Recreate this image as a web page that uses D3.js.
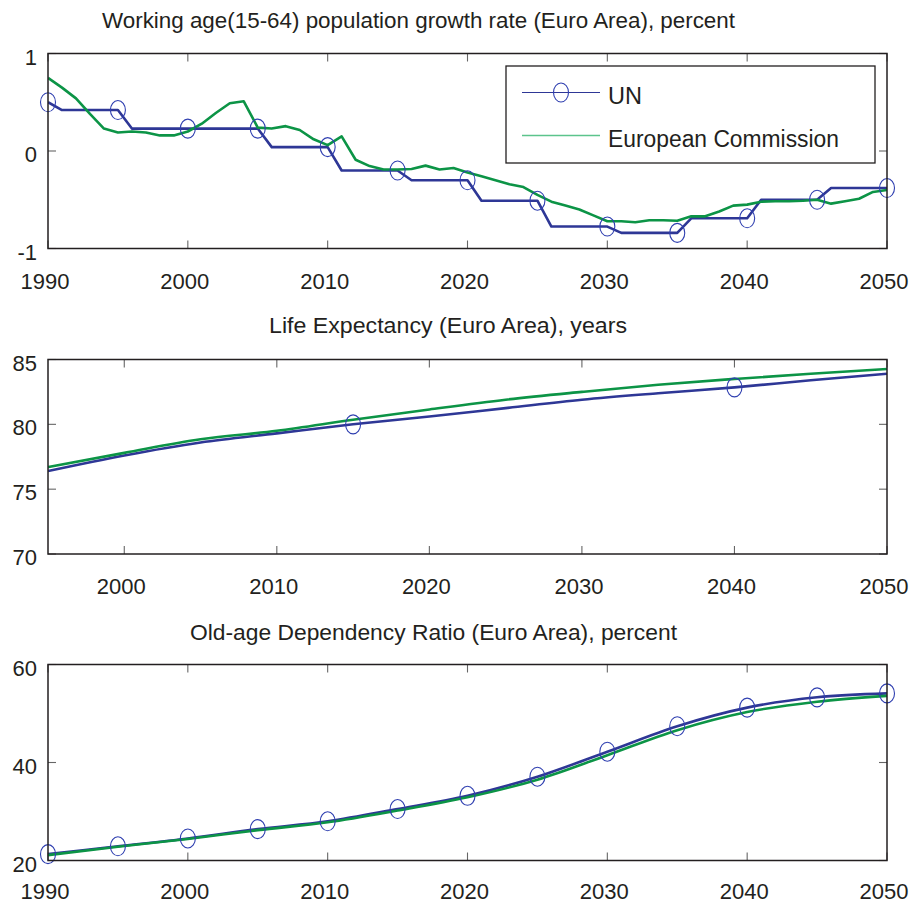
<!DOCTYPE html>
<html>
<head>
<meta charset="utf-8">
<script src="https://cdn.jsdelivr.net/npm/d3@7"></script>
<style>
  html, body { margin: 0; padding: 0; background: #ffffff; }
  svg { display: block; }
  text { font-family: "Liberation Sans", Arial, Helvetica, sans-serif; fill: #231f20; }
</style>
</head>
<body>
<svg id="chart" width="912" height="911"></svg>
<script>
// ---- Working-age (15-64) population growth rate, annual, percent ----
const growthYears = [
  1990,1991,1992,1993,1994,1995,1996,1997,1998,1999,
  2000,2001,2002,2003,2004,2005,2006,2007,2008,2009,
  2010,2011,2012,2013,2014,2015,2016,2017,2018,2019,
  2020,2021,2022,2023,2024,2025,2026,2027,2028,2029,
  2030,2031,2032,2033,2034,2035,2036,2037,2038,2039,
  2040,2041,2042,2043,2044,2045,2046,2047,2048,2049,2050
];
const growthUN = [
  0.50,0.42,0.42,0.42,0.42,0.42,0.23,0.23,0.23,0.23,
  0.23,0.23,0.23,0.23,0.23,0.23,0.04,0.04,0.04,0.04,
  0.04,-0.20,-0.20,-0.20,-0.20,-0.20,-0.30,-0.30,-0.30,-0.30,
  -0.30,-0.51,-0.51,-0.51,-0.51,-0.51,-0.775,-0.775,-0.775,-0.775,
  -0.775,-0.84,-0.84,-0.84,-0.84,-0.84,-0.69,-0.69,-0.69,-0.69,
  -0.69,-0.50,-0.50,-0.50,-0.50,-0.50,-0.38,-0.38,-0.38,-0.38,-0.38
];
const growthEC = [
  0.75,0.65,0.54,0.38,0.23,0.19,0.20,0.19,0.16,0.16,
  0.20,0.28,0.39,0.49,0.51,0.24,0.23,0.255,0.215,0.12,
  0.06,0.15,-0.09,-0.155,-0.19,-0.19,-0.185,-0.15,-0.19,-0.175,
  -0.22,-0.26,-0.30,-0.34,-0.37,-0.45,-0.52,-0.56,-0.60,-0.66,
  -0.72,-0.72,-0.73,-0.71,-0.71,-0.715,-0.67,-0.67,-0.62,-0.56,
  -0.55,-0.52,-0.515,-0.515,-0.51,-0.50,-0.54,-0.515,-0.49,-0.42,-0.40
];
const growthMarkerYears = [1990,1995,2000,2005,2010,2015,2020,2025,2030,2035,2040,2045,2050];
const growthXTicks = [1990,2000,2010,2020,2030,2040,2050];
const growthYTicks = [-1,0,1];

// ---- Life expectancy, years ----
const lifeYears = [1995,2000,2005,2010,2015,2020,2025,2030,2035,2040,2045,2050];
const lifeUN = [76.4,77.6,78.6,79.3,80.0,80.6,81.25,81.9,82.4,82.85,83.4,83.9];
const lifeEC = [76.7,77.8,78.85,79.5,80.35,81.15,81.9,82.5,83.05,83.5,83.9,84.27];
const lifeMarkerYears = [2015,2040];
const lifeXTicks = [2000,2010,2020,2030,2040,2050];
const lifeYTicks = [70,75,80,85];

// ---- Old-age dependency ratio, percent ----
const oldAgeYears = [1990,1995,2000,2005,2010,2015,2020,2025,2030,2035,2040,2045,2050];
const oldAgeUN = [21.3,22.9,24.5,26.4,28.0,30.5,33.2,37.1,42.2,47.4,51.2,53.3,54.1];
const oldAgeEC = [21.1,22.8,24.4,26.2,27.8,30.2,32.9,36.5,41.5,46.6,50.3,52.4,53.6];
const oldAgeMarkerYears = [1990,1995,2000,2005,2010,2015,2020,2025,2030,2035,2040,2045,2050];
const oldAgeXTicks = [1990,2000,2010,2020,2030,2040,2050];
const oldAgeYTicks = [20,40,60];

const seriesNames = ["UN", "European Commission"];

// ---- styling ----
const COLOR_UN = "#2e3796";
const COLOR_UN_MARKER = "#2f3fb0";
const COLOR_EC = "#0c9446";
const COLOR_EC_LEGEND = "#5cc48c";
const FRAME = "#231f20";

const svg = d3.select("#chart");
const plotLeft = 48, plotRight = 887;

const panels = [
  {
    title: "Working age(15-64) population growth rate (Euro Area), percent",
    titleX: 102, titleY: 28, titleLen: 633,
    top: 53.5, bottom: 248.5,
    xDomain: [1990, 2050], yDomain: [-1, 1],
    xTicks: growthXTicks, yTicks: growthYTicks,
    years: growthYears, un: growthUN, ec: growthEC,
    markers: growthMarkerYears, curve: d3.curveLinear,
    xLabelDy: 40, legend: true
  },
  {
    title: "Life Expectancy (Euro Area), years",
    titleX: 269, titleY: 333, titleLen: 358,
    top: 359.5, bottom: 554,
    xDomain: [1995, 2050], yDomain: [70, 85],
    xTicks: lifeXTicks, yTicks: lifeYTicks,
    years: lifeYears, un: lifeUN, ec: lifeEC,
    markers: lifeMarkerYears, curve: d3.curveMonotoneX,
    xLabelDy: 40, legend: false
  },
  {
    title: "Old-age Dependency Ratio (Euro Area), percent",
    titleX: 190, titleY: 640, titleLen: 487,
    top: 664.5, bottom: 860.5,
    xDomain: [1990, 2050], yDomain: [20, 60],
    xTicks: oldAgeXTicks, yTicks: oldAgeYTicks,
    years: oldAgeYears, un: oldAgeUN, ec: oldAgeEC,
    markers: oldAgeMarkerYears, curve: d3.curveMonotoneX,
    xLabelDy: 38, legend: false
  }
];

panels.forEach((p, i) => {
  const x = d3.scaleLinear().domain(p.xDomain).range([plotLeft, plotRight]);
  const y = d3.scaleLinear().domain(p.yDomain).range([p.bottom, p.top]);
  const g = svg.append("g");

  // title
  g.append("text")
    .attr("x", p.titleX).attr("y", p.titleY)
    .attr("font-size", 22)
    .attr("textLength", p.titleLen).attr("lengthAdjust", "spacingAndGlyphs")
    .text(p.title);

  // inward ticks on all four sides
  const tickLen = 8;
  const tickStyle = s => s.attr("stroke", "#666").attr("stroke-width", 1.1);
  p.xTicks.forEach(t => {
    g.append("line").attr("x1", x(t)).attr("x2", x(t))
      .attr("y1", p.bottom).attr("y2", p.bottom - tickLen).call(tickStyle);
    g.append("line").attr("x1", x(t)).attr("x2", x(t))
      .attr("y1", p.top).attr("y2", p.top + tickLen).call(tickStyle);
  });
  p.yTicks.forEach(t => {
    g.append("line").attr("x1", plotLeft).attr("x2", plotLeft + tickLen)
      .attr("y1", y(t)).attr("y2", y(t)).call(tickStyle);
    g.append("line").attr("x1", plotRight).attr("x2", plotRight - tickLen)
      .attr("y1", y(t)).attr("y2", y(t)).call(tickStyle);
  });

  // tick labels
  g.selectAll(".xl").data(p.xTicks).enter().append("text")
    .attr("x", d => x(d) - 3).attr("y", p.bottom + p.xLabelDy)
    .attr("text-anchor", "middle").attr("font-size", 22)
    .text(d => d);
  g.selectAll(".yl").data(p.yTicks).enter().append("text")
    .attr("x", 37).attr("y", d => y(d) + 11)
    .attr("text-anchor", "end").attr("font-size", 22)
    .text(d => d);

  // series lines
  const clipId = "clip" + i;
  svg.append("clipPath").attr("id", clipId).append("rect")
    .attr("x", plotLeft).attr("y", p.top)
    .attr("width", plotRight - plotLeft).attr("height", p.bottom - p.top);

  const lineGen = vals => d3.line()
    .x((d, k) => x(p.years[k]))
    .y(d => y(d))
    .curve(p.curve)(vals);

  const lines = g.append("g").attr("clip-path", `url(#${clipId})`);
  lines.append("path").attr("d", lineGen(p.un))
    .attr("fill", "none").attr("stroke", COLOR_UN).attr("stroke-width", 2.6)
    .attr("stroke-linejoin", "round");
  lines.append("path").attr("d", lineGen(p.ec))
    .attr("fill", "none").attr("stroke", COLOR_EC).attr("stroke-width", 2.6)
    .attr("stroke-linejoin", "round");

  // circle markers on the UN series
  g.selectAll(".mk").data(p.markers).enter().append("ellipse")
    .attr("cx", d => x(d))
    .attr("cy", d => y(p.un[p.years.indexOf(d)]))
    .attr("rx", 7.5).attr("ry", 9.5)
    .attr("fill", "none").attr("stroke", COLOR_UN_MARKER).attr("stroke-width", 1.1);

  // frame
  g.append("rect")
    .attr("x", plotLeft).attr("y", p.top)
    .attr("width", plotRight - plotLeft).attr("height", p.bottom - p.top)
    .attr("fill", "none").attr("stroke", FRAME).attr("stroke-width", 1.5);

  if (p.legend) {
    const lg = g.append("g");
    lg.append("rect").attr("x", 506).attr("y", 66).attr("width", 369).attr("height", 97)
      .attr("fill", "#ffffff").attr("stroke", FRAME).attr("stroke-width", 1.3);
    // UN entry
    lg.append("line").attr("x1", 522).attr("x2", 600).attr("y1", 92.5).attr("y2", 92.5)
      .attr("stroke", COLOR_UN).attr("stroke-width", 1.1);
    lg.append("ellipse").attr("cx", 561).attr("cy", 92.5).attr("rx", 7.5).attr("ry", 9.5)
      .attr("fill", "none").attr("stroke", COLOR_UN_MARKER).attr("stroke-width", 1.1);
    lg.append("text").attr("x", 608).attr("y", 103.5).attr("font-size", 23)
      .attr("textLength", 34).attr("lengthAdjust", "spacingAndGlyphs")
      .text(seriesNames[0]);
    // European Commission entry
    lg.append("line").attr("x1", 522).attr("x2", 600).attr("y1", 135.5).attr("y2", 135.5)
      .attr("stroke", COLOR_EC_LEGEND).attr("stroke-width", 1.3);
    lg.append("text").attr("x", 608).attr("y", 147).attr("font-size", 23)
      .attr("textLength", 231).attr("lengthAdjust", "spacingAndGlyphs")
      .text(seriesNames[1]);
  }
});
</script>
</body>
</html>
